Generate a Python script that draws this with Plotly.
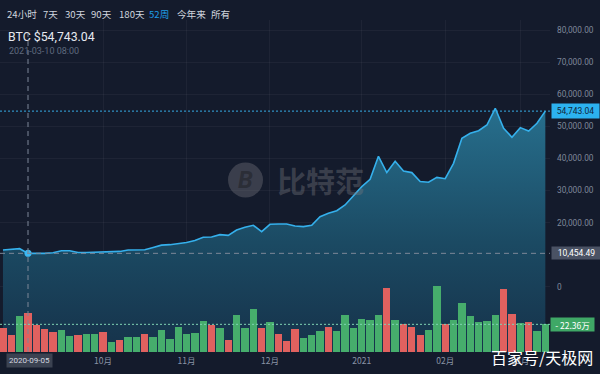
import pandas as pd
import plotly.graph_objects as go

# ---------------- data ----------------
DATES = pd.date_range("2020-08-27", periods=66, freq="3D")

PRICES = [
    11492, 11585, 11900, 10454.49, 10420, 10430, 10620, 11270, 11280, 10700,
    10700, 10760, 10780, 10800, 11050, 11490, 11490, 11550, 12270, 13000,
    13150, 13400, 13830, 14450, 15440, 15540, 16270, 16060, 17720, 18550,
    19180, 17200, 19490, 19590, 19590, 18970, 18760, 19170, 21870, 22910,
    23740, 25510, 28310, 31220, 33510, 40660, 35600, 39100, 36100, 35600,
    32800, 32600, 34100, 33700, 38490, 46280, 47840, 48650, 50420, 55620,
    49390, 46590, 49600, 48550, 50950, 54743.04,
]

VOLUMES = [  # 万
    19.40, 14.01, 29.36, 31.52, 22.09, 18.86, 16.16, 18.05, 12.66, 14.01,
    14.82, 14.82, 16.16, 7.81, 9.97, 12.12, 12.12, 14.28, 12.12, 17.51,
    10.51, 20.21, 14.82, 15.63, 25.05, 22.09, 19.67, 9.97, 29.63, 19.67,
    34.48, 19.67, 24.52, 14.82, 9.16, 18.86, 11.58, 13.47, 16.97, 20.21,
    17.24, 30.17, 19.67, 26.40, 25.86, 30.17, 51.99, 25.59, 22.36, 20.21,
    13.47, 18.05, 53.07, 22.36, 25.59, 39.87, 28.83, 24.25, 25.05, 30.17,
    51.18, 30.98, 23.71, 24.52, 16.97, 22.36,
]

VOLUME_DIR = (
    "RRGRRRRGGRGGRGRGGRGGGGGGGRGRGGGRGRRRGGGRGGGGGGRGRRRGGRGGGGGGRRGRGG"
)

PERIOD_TABS = ["24小时", "7天", "30天", "90天", "180天", "52周", "今年来", "所有"]
ACTIVE_TAB = "52周"

CURRENT_PRICE = 54743.04
CURRENT_VOLUME = 22.36
CROSS_DATE = "2020-09-05"
CROSS_PRICE = 10454.49
PRICE_TICKS = [0, 20000, 30000, 40000, 50000, 60000, 70000, 80000]

# ---------------- styling / layout constants ----------------
W, H = 600, 374
ML, MR, MT, MB = 0, 50, 20, 22
PW, PH = W - ML - MR, H - MT - MB
PRICE_MIN, PRICE_MAX = -20274, 83120
VOL_MAX = 268.3
X_RANGE = ["2020-08-25 22:24", "2021-03-11 16:19"]

BG = "#141b2c"
GRID = "rgba(255,255,255,0.045)"
LINE = "#35b0ec"
GREEN = "#46ad6c"
RED = "#e0615f"
FONT = "Roboto, 'Noto Sans CJK SC', sans-serif"
CJK = "'Noto Sans CJK SC', Roboto, sans-serif"


def px_x(p):
    return (p - ML) / PW


def px_y(p):
    return (H - MB - p) / PH


# month tick positions: first bar of each month (Oct onward)
df = pd.DataFrame({"d": DATES})
df["ym"] = df["d"].dt.to_period("M")
firsts = df.groupby("ym")["d"].first().iloc[2:]
tickvals = list(firsts)
ticktext = [str(d.year) if d.month == 1 else f"{d.month:02d}月" for d in tickvals]

fig = go.Figure()

# baseline for area fill (bottom of the plot)
fig.add_trace(go.Scatter(
    x=DATES, y=[PRICE_MIN] * len(DATES), mode="lines",
    line=dict(width=0, color=BG), hoverinfo="skip", showlegend=False,
))
fig.add_trace(go.Scatter(
    x=DATES, y=PRICES, mode="lines", fill="tonexty",
    line=dict(color=LINE, width=1.6),
    fillgradient=dict(type="vertical",
                      colorscale=[[0, "#16324a"], [0.45, "#1b4a63"], [1, "#276f8d"]]),
    hoverinfo="skip", showlegend=False,
))
fig.add_trace(go.Bar(
    x=DATES, y=VOLUMES, yaxis="y2",
    marker=dict(color=[GREEN if c == "G" else RED for c in VOLUME_DIR], line=dict(width=0)),
    width=2.64 * 86400000, hoverinfo="skip", showlegend=False,
))
# crosshair point
fig.add_trace(go.Scatter(
    x=[CROSS_DATE], y=[CROSS_PRICE], mode="markers",
    marker=dict(color="#3cb8f2", size=7), hoverinfo="skip", showlegend=False,
))

shapes = [
    dict(type="line", xref="paper", x0=0, x1=1, yref="y", y0=CURRENT_PRICE, y1=CURRENT_PRICE,
         line=dict(color="#36aee6", width=1, dash="2px,2px")),
    dict(type="line", xref="paper", x0=0, x1=1, yref="y", y0=CROSS_PRICE, y1=CROSS_PRICE,
         line=dict(color="#7d8798", width=1, dash="5px,4px")),
    dict(type="line", xref="x", x0=CROSS_DATE, x1=CROSS_DATE, yref="paper", y0=0, y1=0.96,
         line=dict(color="#7d8798", width=1, dash="5px,4px")),
    dict(type="line", xref="paper", x0=0, x1=1, yref="y2", y0=CURRENT_VOLUME, y1=CURRENT_VOLUME,
         line=dict(color="#7fd3b4", width=1, dash="2px,2px")),
    dict(type="circle", xref="paper", yref="paper",
         x0=px_x(228), x1=px_x(263), y0=px_y(197.5), y1=px_y(162.5),
         fillcolor="rgba(120,122,128,0.38)", line=dict(width=0), layer="above"),
]

annotations = []
tab_x = [5, 41, 62.5, 89, 116.5, 146.5, 175, 209]
for t, x in zip(PERIOD_TABS, tab_x):
    annotations.append(dict(
        text=t, xref="paper", yref="paper", x=px_x(x), y=px_y(14),
        xanchor="left", yanchor="middle", showarrow=False,
        font=dict(family=CJK, size=9.6, color="#1e9be6" if t == ACTIVE_TAB else "#cfd4dd"),
    ))
annotations += [
    dict(text=f"BTC ${CURRENT_PRICE:,.2f}", xref="paper", yref="paper",
         x=px_x(6), y=px_y(37), xanchor="left", yanchor="middle", showarrow=False,
         font=dict(family=FONT, size=12.3, color="#e6e9ef")),
    dict(text="2021-03-10 08:00", xref="paper", yref="paper",
         x=px_x(6.5), y=px_y(51), xanchor="left", yanchor="middle", showarrow=False,
         font=dict(family=FONT, size=9, color="#5f6a7e")),
    dict(text=f"{CURRENT_PRICE:,.2f}", xref="paper", yref="y", x=1, y=CURRENT_PRICE,
         xanchor="left", yanchor="middle", xshift=1, showarrow=False,
         bgcolor="#2cb2ef", width=45, height=12, borderpad=1,
         font=dict(family=FONT, size=8.5, color="#10263a")),
    dict(text=f"{CROSS_PRICE:,.2f}", xref="paper", yref="y", x=1, y=CROSS_PRICE,
         xanchor="left", yanchor="middle", xshift=1, showarrow=False,
         bgcolor="#4a5264", width=47, height=10, borderpad=1,
         font=dict(family=FONT, size=8.5, color="#ffffff")),
    dict(text=f"- {CURRENT_VOLUME}万", xref="paper", yref="y2", x=1, y=CURRENT_VOLUME,
         xanchor="left", yanchor="middle", xshift=0, showarrow=False,
         bgcolor="#3fa866", width=41, height=11, borderpad=1,
         font=dict(family=CJK, size=8.5, color="#ffffff")),
    dict(text=CROSS_DATE, xref="x", yref="paper", x=CROSS_DATE, y=px_y(361),
         xanchor="center", yanchor="middle", xshift=1.5, showarrow=False,
         bgcolor="#3b4251", borderpad=2,
         font=dict(family=FONT, size=8, color="#d4d8e0")),
    dict(text="<b><i>B</i></b>", xref="paper", yref="paper", x=px_x(245.5), y=px_y(180),
         xanchor="center", yanchor="middle", showarrow=False,
         font=dict(family=FONT, size=24, color="rgba(30,32,38,0.55)")),
    dict(text="<b>比特范</b>", xref="paper", yref="paper", x=px_x(320), y=px_y(180),
         xanchor="center", yanchor="middle", showarrow=False,
         font=dict(family=CJK, size=29, color="rgba(120,122,128,0.38)")),
    dict(text="百家号/天极网", xref="paper", yref="paper", x=px_x(542), y=px_y(357),
         xanchor="center", yanchor="middle", showarrow=False,
         font=dict(family=CJK, size=16, color="#ffffff")),
]

fig.update_layout(
    width=W, height=H,
    margin=dict(l=ML, r=MR, t=MT, b=MB, pad=0),
    paper_bgcolor=BG, plot_bgcolor=BG,
    showlegend=False, hovermode=False, bargap=0,
    xaxis=dict(
        type="date", range=X_RANGE, tickvals=tickvals, ticktext=ticktext,
        showgrid=True, gridcolor=GRID, gridwidth=1, zeroline=False, showline=False,
        ticks="", ticklabelstandoff=2,
        tickfont=dict(family=CJK, size=8.5, color="#8a93a5"),
    ),
    yaxis=dict(
        range=[PRICE_MIN, PRICE_MAX], side="right",
        tickvals=PRICE_TICKS,
        ticktext=["0" if v == 0 else f"{v:,.2f}" for v in PRICE_TICKS],
        showgrid=True, gridcolor=GRID, zeroline=False, showline=False,
        ticks="", ticklabelstandoff=6,
        tickfont=dict(family=FONT, size=8.3, color="#7f889a"),
    ),
    yaxis2=dict(
        range=[0, VOL_MAX], overlaying="y", side="right",
        showgrid=False, showticklabels=False, zeroline=False, showline=False, ticks="",
    ),
    shapes=shapes,
    annotations=annotations,
)

fig.write_html(
    "out.html",
    config={"displayModeBar": False, "responsive": False},
    post_script="document.body.style.margin='0';document.body.style.padding='0';"
                "document.body.style.background='" + BG + "';",
)
